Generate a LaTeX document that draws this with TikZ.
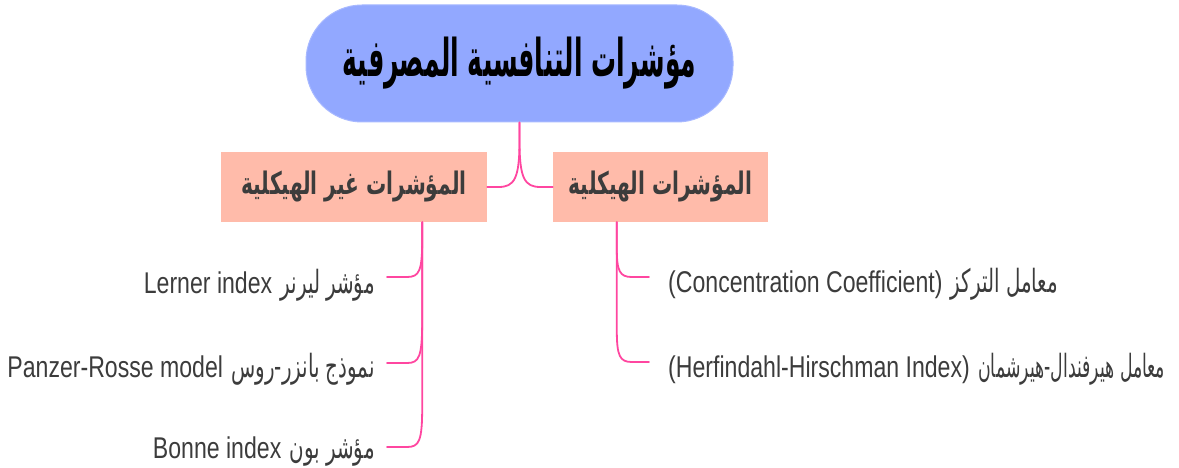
\documentclass[tikz,border=0pt]{standalone}
\usepackage{fontspec}
\usetikzlibrary{calc}
\setmainfont{Liberation Sans}
\TeXXeTstate=1
\newfontfamily\latn[FakeStretch=0.77]{Liberation Sans}
\newfontfamily\arb[Script=Arabic,FakeStretch=0.62]{DejaVu Sans}
\newfontfamily\arbnarrow[Script=Arabic,FakeStretch=0.54]{DejaVu Sans}
\newfontfamily\arbgroup[Script=Arabic,FakeStretch=0.65]{DejaVu Sans}
\newfontfamily\arbtitle[Script=Arabic,FakeStretch=0.48]{DejaVu Sans}
\definecolor{rootfill}{RGB}{146,168,255}
\definecolor{boxfill}{RGB}{255,187,170}
\definecolor{linkpink}{RGB}{255,70,160}
\definecolor{inkgray}{RGB}{60,60,60}
\tikzset{
  rootbox/.style={draw=rootfill!80!white, line width=1pt, fill=rootfill, rounded corners=56pt,
    minimum width=427pt, minimum height=117pt, inner sep=0pt,
    font=\arbtitle\bfseries\fontsize{52}{56}\selectfont, text=black},
  groupbox/.style={fill=boxfill, minimum height=70pt, inner sep=0pt,
    font=\arbgroup\bfseries\fontsize{31}{34}\selectfont, text=inkgray},
  leaf/.style={inner ysep=0pt, text height=30pt, text depth=0pt, text=inkgray,
    font=\fontsize{30}{34}\selectfont},
  link/.style={draw=linkpink, line width=1.8pt, line cap=round},
}
\newcommand{\ar}[1]{{\arb\fontsize{32}{34}\selectfont\beginR #1\endR}}
\newcommand{\arn}[1]{{\arbnarrow\fontsize{32}{34}\selectfont\beginR #1\endR}}
\newcommand{\arx}[1]{{\beginR #1\endR}}
\newcommand{\lt}[1]{{\latn #1}}
\begin{document}
\begin{tikzpicture}[x=1pt,y=1pt]
\useasboundingbox (0,0) rectangle (1179,-468);

% title and the two groups
\node[rootbox] (root) at (519.5,-63.5) {\arx{مؤشرات التنافسية المصرفية}};
\node[groupbox, minimum width=266pt] (ns) at (354,-187) {\arx{المؤشرات غير الهيكلية}};
\node[groupbox, minimum width=215pt] (st) at (660.5,-187) {\arx{المؤشرات الهيكلية}};

% leaves of the non-structural group
\node[leaf, anchor=east, inner xsep=12pt, text height=32pt] (lerner) at (387,-277) {\lt{Lerner index} \ar{مؤشر ليرنر}};
\node[leaf, anchor=east, inner xsep=12pt, text height=28pt] (panzer) at (387,-363) {\lt{Panzer-Rosse model} \ar{نموذج بانزر-روس}};
\node[leaf, anchor=east, inner xsep=12pt, text height=22pt] (bonne) at (387,-447) {\lt{Bonne index} \ar{مؤشر بون}};

% leaves of the structural group
\node[leaf, anchor=west, inner xsep=19pt] (conc) at (649,-277) {\lt{(Concentration Coefficient)} \ar{معامل التركز}};
\node[leaf, anchor=west, inner xsep=19pt] (hhi) at (649,-362) {\lt{(Herfindahl-Hirschman Index)} \arn{معامل هيرفندال-هيرشمان}};

% branch points
\coordinate (rootfoot) at ($(root.south)+(0,0)$);
\coordinate (nsfoot) at ($(ns.south east)+(-65,0)$);
\coordinate (stfoot) at ($(st.south west)+(64,0)$);

% title to groups
\draw[link] (rootfoot) -- ($(rootfoot)+(0,-18)$)
  .. controls ($(rootfoot)+(0,-56)$) and ($(rootfoot |- st.west)+(5,0)$) .. ($(rootfoot |- st.west)+(21,0)$) -- (st.west);
\draw[link] (rootfoot) -- ($(rootfoot)+(0,-18)$)
  .. controls ($(rootfoot)+(0,-56)$) and ($(rootfoot |- ns.east)+(-5,0)$) .. ($(rootfoot |- ns.east)+(-21,0)$) -- (ns.east);

% groups to leaves
\foreach \leafname/\drop in {lerner/37, panzer/43, bonne/40}{
  \draw[link] (nsfoot) -- ($(nsfoot |- \leafname.east)+(0,\drop)$)
    .. controls ($(nsfoot |- \leafname.east)+(0,6)$) and ($(nsfoot |- \leafname.east)+(-3,0)$) .. ($(nsfoot |- \leafname.east)+(-15,0)$) -- (\leafname.east);
}
\foreach \leafname/\drop in {conc/28, hhi/32}{
  \draw[link] (stfoot) -- ($(stfoot |- \leafname.west)+(0,\drop)$)
    .. controls ($(stfoot |- \leafname.west)+(0,6)$) and ($(stfoot |- \leafname.west)+(3,0)$) .. ($(stfoot |- \leafname.west)+(15,0)$) -- (\leafname.west);
}
\end{tikzpicture}
\end{document}
